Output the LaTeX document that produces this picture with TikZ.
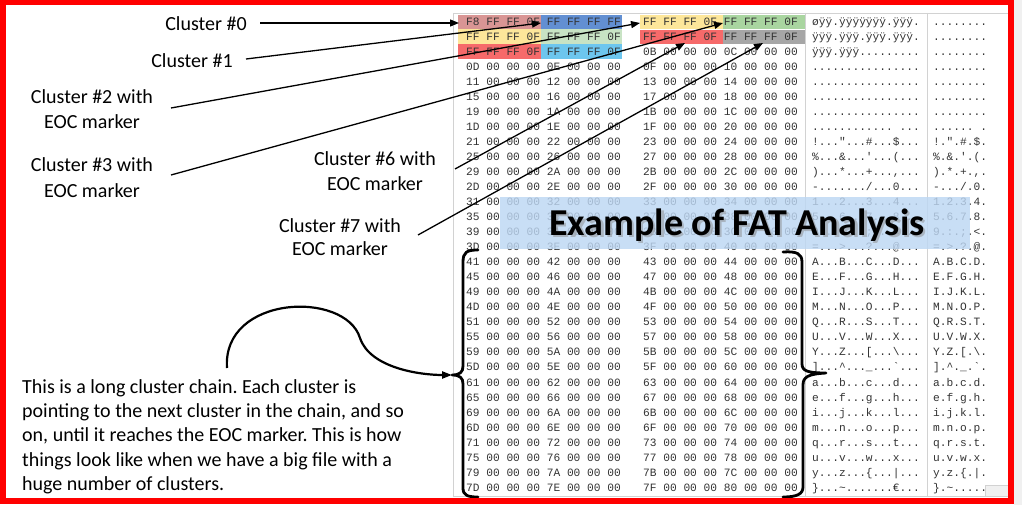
\documentclass[tikz,border=0pt]{standalone}
\usepackage{fontspec}
\setmainfont{Carlito}
\newfontfamily\hexfont{Liberation Mono}
\usetikzlibrary{arrows.meta}
\frenchspacing
\definecolor{hexgray}{HTML}{333333}
\definecolor{panelline}{HTML}{D2D2D2}
\definecolor{cRose}{HTML}{D99594}
\definecolor{cBlue}{HTML}{628FD2}
\definecolor{cYellow}{HTML}{FDE69A}
\definecolor{cGreen}{HTML}{A9D5A0}
\definecolor{cLtGreen}{HTML}{C8E3C4}
\definecolor{cRed}{HTML}{F66A6A}
\definecolor{cGray}{HTML}{A6A6A6}
\definecolor{cCyan}{HTML}{6DC6EE}
\definecolor{titleblue}{HTML}{BDD7F3}
\definecolor{borderred}{HTML}{FF0000}
\definecolor{sidegray}{HTML}{F0F0F0}
\newcommand\hexrow[7]{%
  \pgfmathsetmacro\hy{25.3+15.03*#1}%
  \node[hx] (ga#1) at (466,\hy) {#2 00 00 00 #3 00 00 00};
  \node[hx] (gb#1) at (643,\hy) {#4 00 00 00 #5 00 00 00};
  \node[hx] (ta#1) at (812,\hy) {#6};
  \node[hx] (tb#1) at (933,\hy) {#7};
}
\begin{document}
\begin{tikzpicture}[x=1pt,y=-1pt,
  hx/.style={anchor=base west, inner sep=0pt, text=hexgray,
    font=\hexfont\fontsize{11.2}{13}\selectfont\frenchspacing},
  lab/.style={anchor=base, inner sep=0pt, font=\fontsize{20}{24}\selectfont},
  para/.style={anchor=base west, inner sep=0pt, font=\fontsize{20}{24}\selectfont},
  arr/.style={line width=1.3pt, -{Triangle[length=9pt,width=7pt]}},
  brk/.style={line width=2.8pt, line cap=round, line join=round},
  cell/.style={draw=none}]
\useasboundingbox (0,0) rectangle (1022,505);
\fill[white] (0,0) rectangle (1022,505);
\fill[sidegray] (1014,0) rectangle (1022,505);
% panel frame
\draw[panelline, line width=0.8pt] (453,13) -- (1008,13);
\draw[panelline, line width=0.8pt] (453,13) -- (453,496) -- (1008,496);
\draw[panelline, line width=0.8pt] (805,13) -- (805,496);
\draw[panelline, line width=0.8pt] (927,13) -- (927,496);
\draw[panelline, fill=sidegray, line width=0.6pt] (985,485) rectangle (1008,496);
% highlighted FAT entries
\fill[cRose]    (458,15) rectangle (541,29);
\fill[cBlue]    (541,15) rectangle (622,29);
\fill[cYellow]  (640,15) rectangle (723,29);
\fill[cGreen]   (723,15) rectangle (805,29);
\fill[cYellow]  (458,29) rectangle (541,44);
\fill[cLtGreen] (541,29) rectangle (622,44);
\fill[cRed]     (640,30) rectangle (723,44);
\fill[cGray]    (723,30) rectangle (805,44);
\fill[cRed]     (458,44) rectangle (541,59);
\fill[cCyan]    (541,44) rectangle (622,59);
% hex rows
\node[hx] (ga0) at (466,25.3) {F8 FF FF 0F FF FF FF FF};
\node[hx] (gb0) at (643,25.3) {FF FF FF 0F FF FF FF 0F};
\node[hx] (ta0) at (812,25.3) {øÿÿ.ÿÿÿÿÿÿÿ.ÿÿÿ.};
\node[hx] (tb0) at (933,25.3) {........};
\node[hx] (ga1) at (466,40.33) {FF FF FF 0F FF FF FF 0F};
\node[hx] (gb1) at (643,40.33) {FF FF FF 0F FF FF FF 0F};
\node[hx] (ta1) at (812,40.33) {ÿÿÿ.ÿÿÿ.ÿÿÿ.ÿÿÿ.};
\node[hx] (tb1) at (933,40.33) {........};
\node[hx] (ga2) at (466,55.36) {FF FF FF 0F FF FF FF 0F};
\node[hx] (gb2) at (643,55.36) {0B 00 00 00 0C 00 00 00};
\node[hx] (ta2) at (812,55.36) {ÿÿÿ.ÿÿÿ.........};
\node[hx] (tb2) at (933,55.36) {........};
\hexrow{3}{0D}{0E}{0F}{10}{................}{........}
\hexrow{4}{11}{12}{13}{14}{................}{........}
\hexrow{5}{15}{16}{17}{18}{................}{........}
\hexrow{6}{19}{1A}{1B}{1C}{................}{........}
\hexrow{7}{1D}{1E}{1F}{20}{............\ ...}{......\ .}
\hexrow{8}{21}{22}{23}{24}{!..."...\#...\$...}{!.".\#.\$.}
\hexrow{9}{25}{26}{27}{28}{\%...\&...'...(...}{\%.\&.'.(.}
\hexrow{10}{29}{2A}{2B}{2C}{)...*...+...,...}{).*.+.,.}
\hexrow{11}{2D}{2E}{2F}{30}{-......./...0...}{-.../.0.}
\hexrow{12}{31}{32}{33}{34}{1...2...3...4...}{1.2.3.4.}
\hexrow{13}{35}{36}{37}{38}{5...6...7...8...}{5.6.7.8.}
\hexrow{14}{39}{3A}{3B}{3C}{9...:...;...<...}{9.:.;.<.}
\hexrow{15}{3D}{3E}{3F}{40}{=...>...?...@...}{=.>.?.@.}
\hexrow{16}{41}{42}{43}{44}{A...B...C...D...}{A.B.C.D.}
\hexrow{17}{45}{46}{47}{48}{E...F...G...H...}{E.F.G.H.}
\hexrow{18}{49}{4A}{4B}{4C}{I...J...K...L...}{I.J.K.L.}
\hexrow{19}{4D}{4E}{4F}{50}{M...N...O...P...}{M.N.O.P.}
\hexrow{20}{51}{52}{53}{54}{Q...R...S...T...}{Q.R.S.T.}
\hexrow{21}{55}{56}{57}{58}{U...V...W...X...}{U.V.W.X.}
\hexrow{22}{59}{5A}{5B}{5C}{Y...Z...[...\textbackslash...}{Y.Z.[.\textbackslash.}
\hexrow{23}{5D}{5E}{5F}{60}{]...\textasciicircum...\_...`...}{].\textasciicircum.\_.`.}
\hexrow{24}{61}{62}{63}{64}{a...b...c...d...}{a.b.c.d.}
\hexrow{25}{65}{66}{67}{68}{e...f...g...h...}{e.f.g.h.}
\hexrow{26}{69}{6A}{6B}{6C}{i...j...k...l...}{i.j.k.l.}
\hexrow{27}{6D}{6E}{6F}{70}{m...n...o...p...}{m.n.o.p.}
\hexrow{28}{71}{72}{73}{74}{q...r...s...t...}{q.r.s.t.}
\hexrow{29}{75}{76}{77}{78}{u...v...w...x...}{u.v.w.x.}
\hexrow{30}{79}{7A}{7B}{7C}{y...z...\{...|...}{y.z.\{.|.}
\hexrow{31}{7D}{7E}{7F}{80}{\}...\textasciitilde.......€...}{\}.\textasciitilde.....}
% title banner
\fill[titleblue, fill opacity=0.82] (500,197) rectangle (970,249);
\node[anchor=base west, inner sep=0pt, text=black!45, opacity=0.5,
  font=\fontsize{38}{42}\selectfont\bfseries] (titleshadow) at (551.5,237) {Example of FAT Analysis};
\node[anchor=base west, inner sep=0pt, text=black,
  font=\fontsize{38}{42}\selectfont\bfseries] (title) at (549,235) {Example of FAT Analysis};
% brackets
\coordinate (lnib) at (452,375);
\draw[brk] (478,250) .. controls (467,250) and (463,252) .. (463,262) -- (463,366)
  .. controls (463,372) and (460,375) .. (lnib)
  .. controls (460,375) and (463,378) .. (463,384) -- (463,488)
  .. controls (463,495) and (467,497) .. (478,497);
\draw[brk] (783,252) .. controls (797,251) and (802,254) .. (802,262) -- (802,364)
  .. controls (802,371) and (808,373) .. (826,373)
  .. controls (808,374) and (803,377) .. (803,385) -- (803,487)
  .. controls (803,494) and (797,497) .. (783,497);
% curved arrow from the explanation to the chain
\coordinate (cstart) at (227,368);
\draw[line width=2.2pt, -{Triangle[length=10pt,width=7pt]}] (cstart)
  .. controls (222,295) and (345,290) .. (360,338)
  .. controls (370,368) and (420,375) .. (lnib);
% labels
\node[lab] (c0) at (206,30.5) {Cluster \#0};
\node[lab] (c1) at (192,68) {Cluster \#1};
\node[lab] (c2a) at (92,104) {Cluster \#2 with};
\node[lab] (c2b) at (92,129) {EOC marker};
\node[lab] (c3a) at (92,172) {Cluster \#3 with};
\node[lab] (c3b) at (92,197) {EOC marker};
\node[lab] (c6a) at (375,166) {Cluster \#6 with};
\node[lab] (c6b) at (375,190) {EOC marker};
\node[lab] (c7a) at (340,232) {Cluster \#7 with};
\node[lab] (c7b) at (340,255) {EOC marker};
% connector ends
\coordinate (s0) at (260,23);  \coordinate (t0) at (459,23);
\coordinate (s1) at (246,59);  \coordinate (t1) at (541,23);
\coordinate (s2) at (171,108); \coordinate (t2) at (640,23);
\coordinate (s3) at (171,175); \coordinate (t3) at (723,23);
\coordinate (s6) at (455,169); \coordinate (t6) at (685,43);
\coordinate (s7) at (418,235); \coordinate (t7) at (763,43);
\draw[arr] (s0) -- (t0);
\draw[arr] (s1) -- (t1);
\draw[arr] (s2) -- (t2);
\draw[arr] (s3) -- (t3);
\draw[arr] (s6) -- (t6);
\draw[arr] (s7) -- (t7);
% explanation paragraph
\node[para] (p1) at (22,393) {This is a long cluster chain. Each cluster is};
\node[para] (p2) at (22,417.3) {pointing to the next cluster in the chain, and so};
\node[para] (p3) at (22,441.6) {on, until it reaches the EOC marker. This is how};
\node[para] (p4) at (22,466) {things look like when we have a big file with a};
\node[para] (p5) at (22,490.2) {huge number of clusters.};
% red frame
\draw[borderred, line width=6pt] (3,2) rectangle (1011,501);
\end{tikzpicture}
\end{document}
